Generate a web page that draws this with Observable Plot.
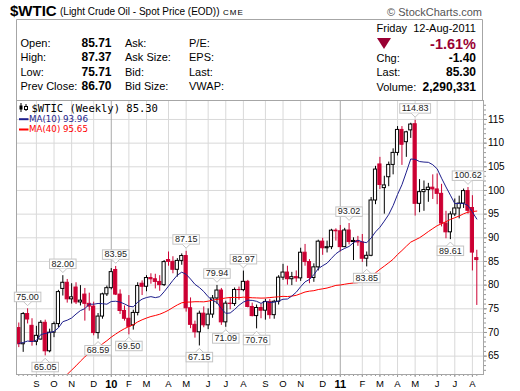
<!DOCTYPE html>
<html><head><meta charset="utf-8">
<script src="https://cdn.jsdelivr.net/npm/d3@7"></script>
<script src="https://cdn.jsdelivr.net/npm/@observablehq/plot@0.6"></script>
<style>
body{margin:0;background:#fff;}
#wrap{position:relative;width:520px;height:391px;overflow:hidden;background:#fff;}
</style></head><body><div id="wrap"></div>
<script>
// ---- data (weekly bars, $WTIC, Aug 14 2009 .. Aug 12 2011) ----
const firstWeek = "2009-08-14";
const open = [70.93,67.51,73.89,71.40,68.02,68.50,72.04,66.02,69.95,71.77,79.20,80.50,77.00,79.50,76.35,78.00,76.05,75.47,69.87,73.36,78.05,79.36,83.20,78.00,74.54,72.89,71.50,74.13,80.30,79.66,81.50,81.24,80.68,80.00,85.30,84.92,83.24,85.12,86.15,75.11,71.61,70.04,73.97,71.51,73.78,77.18,78.86,72.14,76.09,76.01,78.98,78.95,80.70,75.39,73.46,75.17,74.60,76.45,73.66,76.49,81.58,82.66,81.25,81.69,81.43,86.85,84.88,81.51,83.76,89.19,87.79,88.02,91.51,91.38,88.03,91.54,89.11,89.34,89.03,85.58,86.20,97.88,105.50,100.50,102.80,105.40,107.94,112.79,110.20,112.70,114.00,97.18,99.65,100.10,100.59,100.22,99.29,93.01,91.16,94.94,96.20,97.24,99.87,96.30,85.71];
const high = [72.00,74.20,75.00,72.90,71.30,72.50,72.60,70.70,72.20,78.90,82.00,81.20,80.30,80.50,79.90,79.30,78.30,76.40,74.00,78.30,79.80,83.50,83.95,79.00,75.60,77.80,74.70,80.50,80.90,82.00,82.40,82.30,82.00,85.20,87.00,86.00,85.60,86.60,87.15,77.30,72.40,74.50,75.40,75.00,77.80,79.94,79.30,76.60,77.40,79.40,79.60,82.97,81.00,76.20,75.80,76.00,77.00,77.00,76.80,82.00,84.40,84.00,82.70,83.00,87.80,88.60,85.40,84.50,89.50,89.90,89.30,91.80,91.90,92.60,92.00,93.02,90.00,90.30,90.70,87.00,98.50,105.10,107.00,103.00,106.00,108.80,113.50,113.50,112.50,114.20,114.83,102.30,102.00,101.50,103.30,103.50,101.30,95.60,95.50,98.20,98.80,100.30,100.62,98.90,87.37];
const low = [66.80,65.80,71.80,67.10,67.20,68.40,65.05,65.70,68.90,71.00,77.70,76.20,76.00,75.90,75.60,72.40,74.50,69.30,68.59,72.80,77.60,79.00,77.80,73.80,72.40,69.50,70.50,73.50,77.80,78.60,80.20,79.20,78.70,79.70,84.00,82.40,81.70,84.20,74.30,70.80,68.80,67.15,71.00,70.60,73.00,75.90,71.50,71.09,74.80,75.50,76.80,78.60,75.20,73.30,70.76,72.90,72.60,72.80,72.80,75.80,81.00,80.00,79.90,80.60,80.80,84.00,80.30,80.60,83.00,86.30,86.80,87.50,89.30,87.00,87.90,88.50,85.20,88.20,84.80,83.85,86.00,97.00,100.20,95.00,100.80,103.30,107.30,105.30,107.00,111.00,94.60,95.30,95.60,97.50,98.10,97.00,92.30,89.80,89.61,94.50,94.00,96.20,95.00,83.00,75.71];
const close = [67.51,73.89,72.74,68.02,69.29,72.04,66.02,69.95,71.77,78.53,80.50,77.00,77.43,76.35,76.72,76.05,75.47,69.87,73.36,78.05,79.36,82.75,78.00,74.54,72.89,71.19,74.13,79.81,79.66,81.50,81.24,80.68,80.00,84.87,84.92,83.24,85.12,86.15,75.11,71.61,70.04,73.97,71.51,73.78,77.18,78.86,72.14,76.09,76.01,78.98,78.95,80.70,75.39,73.46,75.17,74.60,76.45,73.66,76.49,81.58,82.66,81.25,81.69,81.43,86.85,84.88,81.51,83.76,89.19,87.79,88.02,91.51,91.38,88.03,91.54,89.11,89.34,89.03,85.58,86.20,97.88,104.42,101.16,101.07,105.40,107.94,112.79,109.66,112.29,113.93,97.18,99.65,100.10,100.59,100.22,99.29,93.01,91.16,94.94,96.20,97.24,99.87,95.70,86.88,85.30];
const ma10 = [67.69,67.87,68.19,68.08,68.33,69.55,69.79,69.98,70.22,70.98,72.28,72.59,73.06,73.89,74.63,75.03,75.98,75.97,76.13,76.08,75.97,76.54,76.60,76.42,76.03,75.55,75.41,76.41,77.04,77.38,77.57,77.36,77.56,78.60,79.80,81.01,82.10,82.74,82.28,81.29,80.17,79.50,78.65,77.55,76.77,76.33,75.04,74.03,74.12,74.86,75.75,76.42,76.81,76.78,76.58,76.15,76.58,76.34,76.39,76.65,77.02,77.07,77.70,78.50,79.67,80.69,81.20,82.21,83.48,84.10,84.64,85.66,86.63,87.29,87.76,88.18,88.97,89.49,89.13,88.97,89.96,91.25,92.23,93.53,94.92,96.80,99.15,101.21,103.88,106.65,106.58,106.11,106.00,105.95,105.44,104.57,102.59,100.74,99.01,97.23,97.24,97.26,96.82,95.45,93.96];
const ma40 = [null,null,null,null,null,null,null,null,null,59.29,60.39,61.15,62.05,62.95,63.93,64.86,65.63,66.24,66.91,67.59,68.26,69.02,69.66,70.27,70.80,71.25,71.64,72.23,72.68,73.05,73.37,73.59,73.85,74.24,74.70,75.28,75.82,76.27,76.42,76.43,76.50,76.50,76.47,76.61,76.81,76.98,77.13,77.29,77.39,77.40,77.36,77.46,77.41,77.33,77.30,77.26,77.28,77.38,77.46,77.54,77.63,77.59,77.68,77.85,78.20,78.55,78.73,78.83,79.07,79.22,79.39,79.66,79.95,80.03,80.19,80.34,80.45,80.52,80.78,81.14,81.84,82.60,83.34,84.02,84.73,85.46,86.47,87.31,88.22,89.09,89.55,90.02,90.64,91.32,91.95,92.56,92.98,93.41,93.88,94.24,94.61,95.07,95.42,95.56,95.65];
// annotated swing highs / lows: bar index and which extreme
const annBars = [2,6,10,18,22,25,38,41,45,47,51,54,75,79,90,98,102];
const annKind = ["h","l","h","l","h","l","h","l","h","l","h","l","h","l","h","l","h"];
const yTicks = [65,70,75,80,85,90,95,100,105,110,115];
const monthLetters = ["J","F","M","A","M","J","J","A","S","O","N","D"];
// header texts
const infoRows = [["Open:","85.71","Ask:","P/E:"],["High:","87.37","Ask Size:","EPS:"],["Low:","75.71","Bid:","Last:"],["Prev Close:","86.70","Bid Size:","VWAP:"]];
const quoteDay = "Friday  12-Aug-2011";
const pctChg = "-1.61%";
const quoteRows = [["Chg:","-1.40"],["Last:","85.30"],["Volume:","2,290,331"]];
const legendMain = "$WTIC (Weekly) 85.30";
const legendMA = [["MA(10) 93.96","#1e1e8c"],["MA(40) 95.65","#ff0000"]];

// ---- build ----
const N = close.length;
const d0 = new Date(firstWeek + "T00:00:00Z");
const dates = d3.range(N).map(i => d3.utcDay.offset(d0, 7 * i));
const bars = d3.range(N).map(i => ({i, o: open[i], h: high[i], l: low[i], c: close[i], ma10: ma10[i], ma40: ma40[i]}));
const RED = "#cc0033";
const up = d => d.c >= d.o;

// month ticks: week whose Monday falls in a new month
const monthTicks = [], monthLab = {};
for (let i = 1; i < N; i++) {
  const a = d3.utcDay.offset(dates[i - 1], -4), b = d3.utcDay.offset(dates[i], -4);
  if (a.getUTCMonth() !== b.getUTCMonth()) {
    monthTicks.push(i);
    monthLab[i] = b.getUTCMonth() === 0 ? String(b.getUTCFullYear()).slice(2) : monthLetters[b.getUTCMonth()];
  }
}
const yearTicks = monthTicks.filter(i => monthLab[i].length === 2);
const ann = annBars.map((b, k) => ({i: b, v: annKind[k] === "h" ? high[b] : low[b], kind: annKind[k]}));
const yMinor = d3.range(62, 119, 1);

const wrap = document.getElementById("wrap");

// header
const hdr = d3.create("svg").attr("width", 520).attr("height", 100)
  .style("position", "absolute").style("left", "0px").style("top", "0px")
  .attr("font-family", "Liberation Sans, Arial, sans-serif");
hdr.append("path").attr("d", "M16.5,100V19.5H482.5V100").attr("fill", "none").attr("stroke", "#a6a6a6");
const T = (x, y, s, o = {}) => { const t = hdr.append("text").attr("x", x).attr("y", y).text(s); for (const k in o) t.attr(k, o[k]); return t; };
T(10, 15.5, "$WTIC", {"font-size": 15, "font-weight": "bold"});
T(60, 15, "(Light Crude Oil - Spot Price (EOD))", {"font-size": 10});
T(223, 14.5, "CME", {"font-size": 8, "letter-spacing": 1});
T(482, 15.5, "\u00A9 StockCharts.com", {"font-size": 11, "text-anchor": "end", fill: "#555"});
const rowY = [46.5, 61, 75.5, 90];
infoRows.forEach((r, k) => {
  T(20.5, rowY[k], r[0], {"font-size": 11});
  T(111.5, rowY[k], r[1], {"font-size": 12, "font-weight": "bold", "text-anchor": "end"});
  T(125, rowY[k], r[2], {"font-size": 11});
  T(189, rowY[k], r[3], {"font-size": 11});
});
T(376.5, 32, quoteDay, {"font-size": 11}).style("white-space", "pre");
hdr.append("path").attr("d", "M377,38H391L384,49Z").attr("fill", "#990033");
T(476, 48.5, pctChg, {"font-size": 14.5, "font-weight": "bold", "text-anchor": "end", fill: "#990033"});
quoteRows.forEach((r, k) => {
  T(376.5, [61.5, 76, 90.5][k], r[0], {"font-size": 11});
  T(476, [61.5, 76, 90.5][k], r[1], {"font-size": 12, "font-weight": "bold", "text-anchor": "end"});
});
wrap.appendChild(hdr.node());

// chart
const chart = Plot.plot({
  width: 520, height: 292,
  marginTop: 1, marginBottom: 17, marginLeft: 16, marginRight: 37,
  style: {fontFamily: "Liberation Sans, Arial, sans-serif", fontSize: "10px", background: "transparent", color: "#000", position: "absolute", left: "0px", top: "99px", overflow: "visible"},
  x: {type: "linear", domain: [-0.52, N - 1 + 1.52], axis: null, label: null},
  y: {domain: [61.12, 119.01], axis: null, label: null},
  marks: [
    Plot.gridY(yTicks, {stroke: "#d9d9d9", strokeOpacity: 1}),
    Plot.gridX(monthTicks, {stroke: d => yearTicks.includes(d) ? "#a9a9a9" : "#d9d9d9", strokeOpacity: 1}),
    Plot.axisY(yMinor, {anchor: "right", tickSize: 2, tickFormat: () => "", stroke: "#999", label: null}),
    Plot.axisY(yTicks, {anchor: "right", tickSize: 3, tickPadding: 1.5, fontSize: 10, stroke: "#999", label: null}),
    Plot.axisX(d3.range(N), {anchor: "bottom", tickSize: 2, tickFormat: () => "", stroke: "#999", label: null}),
    Plot.axisX(monthTicks, {anchor: "bottom", tickSize: 3, tickPadding: 2.5, fontSize: 9.5, tickFormat: i => monthLab[i], stroke: "#999", label: null}),
    Plot.ruleX(bars, {x: "i", y1: "l", y2: "h", stroke: d => up(d) ? "#000" : RED, strokeWidth: 1}),
    Plot.rect(bars, {x1: d => d.i - 0.36, x2: d => d.i + 0.36, y1: "o", y2: "c", fill: d => up(d) ? "#fff" : RED, stroke: d => up(d) ? "#000" : RED, strokeWidth: 1}),
    Plot.line(bars, {x: "i", y: "ma40", stroke: "#ff0000", strokeWidth: 1, clip: true}),
    Plot.line(bars, {x: "i", y: "ma10", stroke: "#1e1e8c", strokeWidth: 1, clip: true}),
    Plot.frame({stroke: "#a6a6a6"}),
    Plot.text(ann.filter(d => d.kind === "h"), {x: "i", y: "v", text: d => d.v.toFixed(2), dy: -12, fontSize: 9, fill: "#222"}),
    Plot.text(ann.filter(d => d.kind === "l"), {x: "i", y: "v", text: d => d.v.toFixed(2), dy: 11, fontSize: 9, fill: "#222"})
  ]
});
wrap.appendChild(chart);

// label boxes with pointers
const svg = d3.select(chart);
const hiSet = new Set(ann.filter(d => d.kind === "h").map(d => d.v.toFixed(2)));
const loSet = new Set(ann.filter(d => d.kind === "l").map(d => d.v.toFixed(2)));
const labelNodes = svg.selectAll("text").nodes().filter(n => hiSet.has(n.textContent) || loSet.has(n.textContent));
labelNodes.forEach(node => {
  const isHi = hiSet.has(node.textContent);
  const b = node.getBBox();
  const parent = node.parentNode;
  const NS = "http://www.w3.org/2000/svg";
  const g = document.createElementNS(NS, "g");
  const tf = node.getAttribute("transform");
  if (tf) g.setAttribute("transform", tf);
  const x0 = b.x - 2, w = b.width + 4, y0 = b.y + 0.5, h = b.height - 0.5;
  const cx = b.x + b.width / 2;
  const r = document.createElementNS(NS, "rect");
  r.setAttribute("x", x0); r.setAttribute("y", y0); r.setAttribute("width", w); r.setAttribute("height", h);
  r.setAttribute("fill", "#fff"); r.setAttribute("stroke", "#c4c4c4");
  g.appendChild(r);
  const by = isHi ? y0 + h : y0, s = isHi ? 4 : -4;
  const p = document.createElementNS(NS, "path");
  p.setAttribute("d", `M${cx - 4},${by}L${cx},${by + s}L${cx + 4},${by}`);
  p.setAttribute("fill", "#fff"); p.setAttribute("stroke", "#c4c4c4");
  g.appendChild(p);
  parent.insertBefore(g, node);
});
// bold year labels
svg.selectAll("text").filter(function () { return yearTicks.some(i => monthLab[i] === this.textContent); })
  .attr("font-weight", "bold").attr("font-size", 11);

// legend inside plot (top-left)
const lg = svg.append("g").attr("text-anchor", "start");
lg.append("line").attr("x1", 21).attr("x2", 21).attr("y1", 4).attr("y2", 13).attr("stroke", "#000");
lg.append("rect").attr("x", 19.5).attr("y", 6.5).attr("width", 3).attr("height", 4).attr("fill", "#000");
lg.append("line").attr("x1", 26).attr("x2", 26).attr("y1", 5).attr("y2", 12).attr("stroke", "#000");
lg.append("rect").attr("x", 24.5).attr("y", 7.5).attr("width", 3).attr("height", 3).attr("fill", "#fff").attr("stroke", "#000");
lg.append("text").attr("x", 31.5).attr("y", 12.5).attr("text-anchor", "start").attr("font-family", "DejaVu Sans Mono, monospace").attr("font-size", 10.5).attr("fill", "#000").text(legendMain);
legendMA.forEach(([s, c], k) => {
  const y = 23 + k * 10.3;
  lg.append("line").attr("x1", 19).attr("x2", 28.5).attr("y1", y - 2.8).attr("y2", y - 2.8).attr("stroke", c).attr("stroke-width", 2);
  lg.append("text").attr("x", 29).attr("y", y).attr("text-anchor", "start").attr("font-family", "DejaVu Sans, sans-serif").attr("font-size", 8.7).attr("fill", c).text(s);
});
</script>
</body></html>
